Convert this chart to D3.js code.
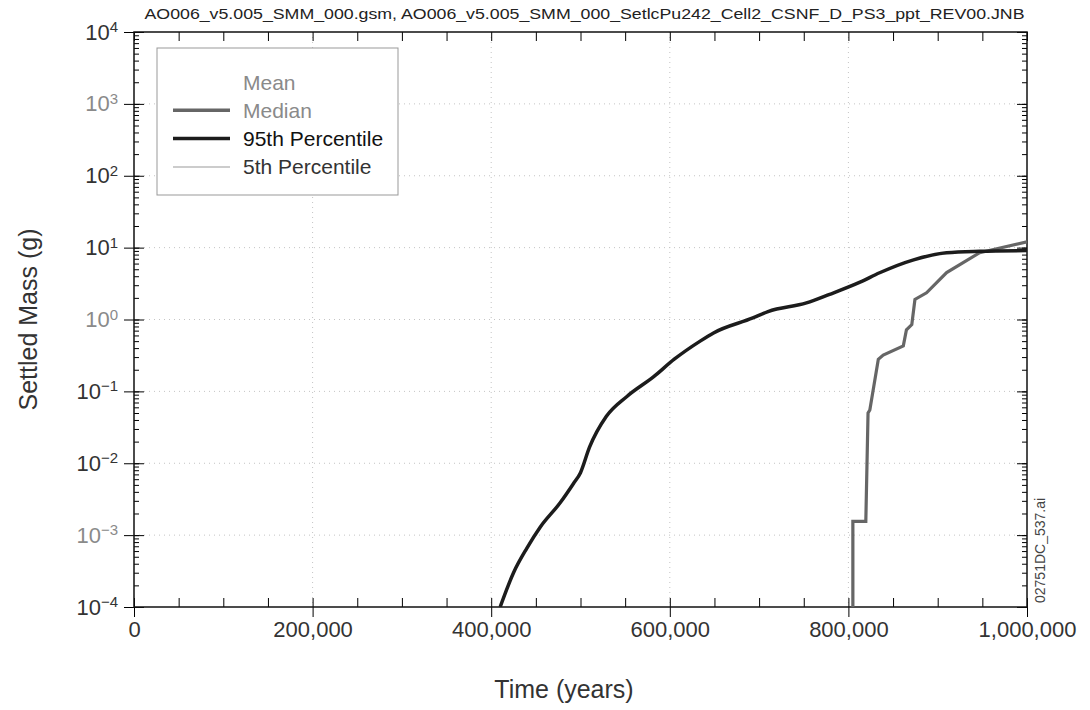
<!doctype html>
<html lang="en">
<head>
  <meta charset="utf-8">
  <title>Settled Mass Pu242</title>
  <script src="https://d3js.org/d3.v7.min.js"></script>
  <style>
    body { margin: 0; background: #fff; }
    text { font-family: "Liberation Sans", Arial, sans-serif; }
  </style>
</head>
<body>
  <div id="chart"></div>
  <script type="text/javascript">

    var width = 1090, height = 710;

    // chart text
    var title = 'AO006_v5.005_SMM_000.gsm, AO006_v5.005_SMM_000_SetlcPu242_Cell2_CSNF_D_PS3_ppt_REV00.JNB';
    var seriesNames = ['Mean', 'Median', '95th Percentile', '5th Percentile'];
    var xTicks = [0, 200000, 400000, 600000, 800000, 1000000];
    var yTicks = [1e-4, 1e-3, 1e-2, 1e-1, 1e0, 1e1, 1e2, 1e3, 1e4];

    // 95th percentile curve (time in years, mass in g)
    var p95Time = [410000, 425000, 440000, 455000, 477000, 492000, 500000, 510000, 529000,
                   552000, 582000, 605000, 634000, 649000, 693000, 710000, 753000, 779000,
                   813000, 835000, 873000, 910000, 947000, 1000000];
    var p95Mass = [1.0e-4, 3.0e-4, 6.6e-4, 1.3e-3, 2.8e-3, 5.2e-3, 7.4e-3, 1.66e-2, 4.5e-2,
                   8.5e-2, 0.16, 0.28, 0.50, 0.65, 1.05, 1.29, 1.70, 2.24,
                   3.31, 4.47, 6.76, 8.5, 8.9, 9.1];

    // median curve (stepped)
    var medTime = [805000, 805000, 819500, 822000, 824000, 833500, 839000, 861500, 865000,
                   871000, 874500, 887500, 910000, 947000, 1000000];
    var medMass = [1e-6, 1.55e-3, 1.55e-3, 0.05, 0.055, 0.28, 0.32, 0.43, 0.72,
                   0.85, 1.9, 2.35, 4.5, 8.5, 12];

    var colors = ['#ffffff', '#666666', '#1c1c1c', '#cccccc'];
    var textColors = ['#8a8a8a', '#8a8a8a', '#111111', '#333333'];

    // plot box (top is a reserved window name, so prefix these)
    var pLeft = 134, pRight = 1027, pTop = 32, pBottom = 607;

    var x = d3.scaleLinear().domain([0, 1000000]).range([pLeft, pRight]);
    var y = d3.scaleLog().domain([1e-4, 1e4]).range([pBottom, pTop]);

    var svg = d3.select('#chart')
                .append('svg')
                .attr('width', width)
                .attr('height', height);

    svg.append('defs').append('clipPath').attr('id', 'plot')
       .append('rect')
       .attr('x', pLeft).attr('y', pTop)
       .attr('width', pRight - pLeft).attr('height', pBottom - pTop);

    // faint dotted grid at the major ticks
    var grid = svg.append('g').attr('stroke', '#c4c4c4').attr('stroke-dasharray', '1,4');
    grid.selectAll('.vg').data(xTicks.slice(1, -1)).enter().append('line')
        .attr('x1', function(d) { return x(d); }).attr('x2', function(d) { return x(d); })
        .attr('y1', pTop).attr('y2', pBottom);
    grid.selectAll('.hg').data(yTicks.slice(1, -1)).enter().append('line')
        .attr('y1', function(d) { return y(d); }).attr('y2', function(d) { return y(d); })
        .attr('x1', pLeft).attr('x2', pRight);

    // x axis: labels + outer major ticks
    var minorX = d3.range(0, 1000001, 50000);
    var gx = svg.append('g')
                .attr('transform', 'translate(0,' + pBottom + ')')
                .call(d3.axisBottom(x).tickValues(xTicks).tickFormat(d3.format(','))
                        .tickSize(10).tickPadding(4));
    gx.selectAll('text').attr('font-size', 22).attr('fill', '#333');
    gx.select('.domain').remove();
    svg.append('g').attr('transform', 'translate(0,' + pBottom + ')')
       .call(d3.axisBottom(x).tickValues(minorX).tickFormat('').tickSize(-9).tickSizeOuter(0))
       .select('.domain').remove();
    svg.append('g').attr('transform', 'translate(0,' + pTop + ')')
       .call(d3.axisTop(x).tickValues(minorX).tickFormat('').tickSize(-9).tickSizeOuter(0))
       .select('.domain').remove();

    // y axis: labels with superscript exponents
    var gy = svg.append('g')
                .attr('transform', 'translate(' + pLeft + ',0)')
                .call(d3.axisLeft(y).tickValues(yTicks).tickFormat('').tickSize(10).tickPadding(6));
    gy.select('.domain').remove();
    gy.selectAll('.tick text').each(function(d) {
      var e = Math.round(Math.log10(d));
      var t = d3.select(this).attr('font-size', 22)
                .attr('fill', (e === 3 || e === 0 || e === -3) ? '#8a8a8a' : '#333');
      t.append('tspan').text('10');
      t.append('tspan').attr('dy', '-0.5em').attr('font-size', 15)
       .text(String(e).replace('-', '\u2212'));
    });
    svg.append('g').attr('transform', 'translate(' + pLeft + ',0)')
       .call(d3.axisRight(y).tickFormat('').tickSize(5).tickSizeOuter(0))
       .select('.domain').remove();
    svg.append('g').attr('transform', 'translate(' + pLeft + ',0)')
       .call(d3.axisRight(y).tickValues(yTicks).tickFormat('').tickSize(10).tickSizeOuter(0))
       .select('.domain').remove();
    svg.append('g').attr('transform', 'translate(' + pRight + ',0)')
       .call(d3.axisLeft(y).tickFormat('').tickSize(5).tickSizeOuter(0))
       .select('.domain').remove();
    svg.append('g').attr('transform', 'translate(' + pRight + ',0)')
       .call(d3.axisLeft(y).tickValues(yTicks).tickFormat('').tickSize(10).tickSizeOuter(0))
       .select('.domain').remove();

    // frame
    svg.append('rect')
       .attr('x', pLeft).attr('y', pTop)
       .attr('width', pRight - pLeft).attr('height', pBottom - pTop)
       .attr('fill', 'none').attr('stroke', '#111').attr('stroke-width', 1.5);

    // curves
    var line = d3.line()
                 .x(function(d) { return x(d[0]); })
                 .y(function(d) { return y(d[1]); });
    var smooth = d3.line()
                   .x(function(d) { return x(d[0]); })
                   .y(function(d) { return y(d[1]); })
                   .curve(d3.curveMonotoneX);

    var plot = svg.append('g').attr('clip-path', 'url(#plot)');
    plot.append('path')
        .datum(d3.zip(medTime, medMass))
        .attr('d', line)
        .attr('fill', 'none').attr('stroke', colors[1]).attr('stroke-width', 3.2);
    plot.append('path')
        .datum(d3.zip(p95Time, p95Mass))
        .attr('d', smooth)
        .attr('fill', 'none').attr('stroke', colors[2]).attr('stroke-width', 3.5)
        .attr('stroke-linejoin', 'round');

    // legend
    var legend = svg.append('g').attr('transform', 'translate(157,48)');
    legend.append('rect')
          .attr('width', 241).attr('height', 147)
          .attr('fill', '#fff').attr('stroke', '#999').attr('stroke-width', 1);
    var items = legend.selectAll('.item')
                      .data(seriesNames)
                      .enter()
                      .append('g')
                      .attr('transform', function(d, i) { return 'translate(0,' + (34 + i * 28.3) + ')'; });
    items.append('line')
         .attr('x1', 16).attr('x2', 73)
         .attr('stroke', function(d, i) { return colors[i]; })
         .attr('stroke-width', function(d, i) { return i === 3 ? 2 : 3.5; });
    items.append('text')
         .attr('x', 86).attr('dy', '0.36em')
         .attr('font-size', 21)
         .attr('fill', function(d, i) { return textColors[i]; })
         .text(function(d) { return d; });

    // title and axis labels
    svg.append('text')
       .attr('x', (pLeft + pRight) / 2 + 4).attr('y', 19)
       .attr('text-anchor', 'middle')
       .attr('font-size', 15).attr('fill', '#222')
       .attr('textLength', 880).attr('lengthAdjust', 'spacingAndGlyphs')
       .text(title);

    svg.append('text')
       .attr('transform', 'translate(37,' + ((pTop + pBottom) / 2) + ') rotate(-90)')
       .attr('text-anchor', 'middle')
       .attr('font-size', 25).attr('fill', '#333')
       .text('Settled Mass (g)');

    svg.append('text')
       .attr('x', 564).attr('y', 698)
       .attr('text-anchor', 'middle')
       .attr('font-size', 25).attr('fill', '#333')
       .text('Time (years)');

    svg.append('text')
       .attr('transform', 'translate(1045,603) rotate(-90)')
       .attr('font-size', 14).attr('fill', '#444')
       .text('02751DC_537.ai');

  </script>
</body>
</html>
